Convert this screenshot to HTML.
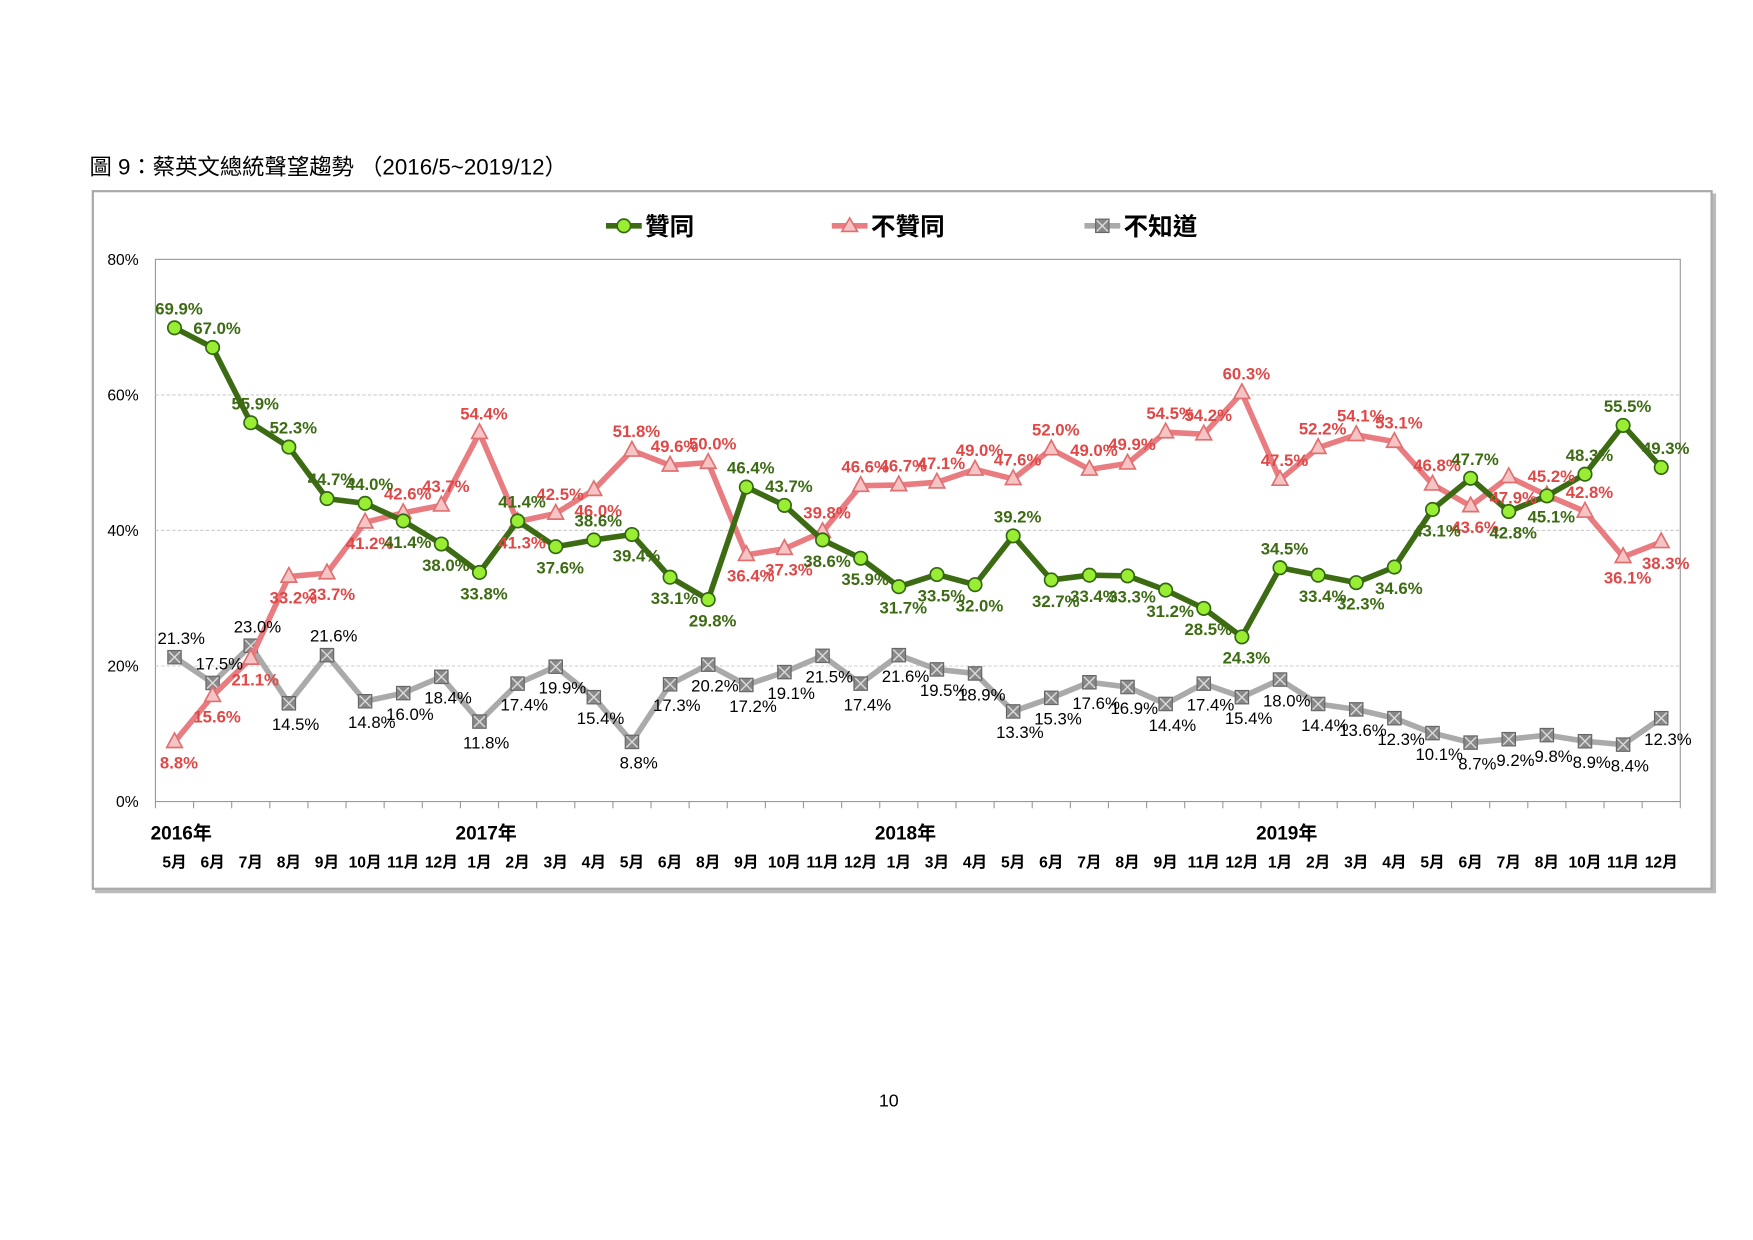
<!DOCTYPE html>
<html><head><meta charset="utf-8"><style>
html,body{margin:0;padding:0;background:#fff;}
svg{display:block;}
text{font-family:"Liberation Sans","Noto Sans CJK TC",sans-serif;}
</style></head><body>
<svg id="chart" width="1753" height="1240" viewBox="0 0 1568 1109.2" xmlns="http://www.w3.org/2000/svg">
<text x="80" y="156" font-size="20" font-family="Liberation Serif, Noto Serif CJK SC, serif">圖 9：蔡英文總統聲望趨勢 （2016/5~2019/12）</text>
<rect x="85" y="173" width="1450" height="626" fill="#bbb"/>
<rect x="83" y="171" width="1448" height="624" fill="#fff" stroke="#aaa" stroke-width="2"/>
<rect x="139" y="232" width="1364" height="485" fill="#fff" stroke="#999" stroke-width="1"/>
<g id="grid"></g><g id="series"></g><g id="labels"></g><g id="axis"></g>
<g font-weight="bold" font-size="22">
 <g>
  <line x1="542" y1="202" x2="574" y2="202" stroke="#3d6b14" stroke-width="5"/><circle cx="558" cy="202" r="6" fill="#99ee33" stroke="#336611" stroke-width="1.5"/>
  <text x="577" y="210">贊同</text></g>
 <g>
  <line x1="744" y1="202" x2="776" y2="202" stroke="#e87c80" stroke-width="5"/><polygon points="760,195 767,207 753,207" fill="#f6c4c4" stroke="#e07070" stroke-width="1.5"/>
  <text x="779" y="210">不贊同</text></g>
 <g>
  <line x1="970" y1="202" x2="1002" y2="202" stroke="#aaa" stroke-width="5"/><rect x="980" y="196" width="12" height="12" fill="#888" stroke="#666"/><path d="M981 197L991 207M991 197L981 207" stroke="#ddd" stroke-width="1.2"/>
  <text x="1005" y="210">不知道</text></g>
</g>
<text x="795" y="990" font-size="16" text-anchor="middle">10</text>
</svg>
<script>
const months=["5月","6月","7月","8月","9月","10月","11月","12月","1月","2月","3月","4月","5月","6月","8月","9月","10月","11月","12月","1月","3月","4月","5月","6月","7月","8月","9月","11月","12月","1月","2月","3月","4月","5月","6月","7月","8月","10月","11月","12月"];
const years=[["2016年",0],["2017年",8],["2018年",19],["2019年",29]];
const yTicks=[0,20,40,60,80];
const approve=[69.9,67.0,55.9,52.3,44.7,44.0,41.4,38.0,33.8,41.4,37.6,38.6,39.4,33.1,29.8,46.4,43.7,38.6,35.9,31.7,33.5,32.0,39.2,32.7,33.4,33.3,31.2,28.5,24.3,34.5,33.4,32.3,34.6,43.1,47.7,42.8,45.1,48.3,55.5,49.3];
const disapprove=[8.8,15.6,21.1,33.2,33.7,41.2,42.6,43.7,54.4,41.3,42.5,46.0,51.8,49.6,50.0,36.4,37.3,39.8,46.6,46.7,47.1,49.0,47.6,52.0,49.0,49.9,54.5,54.2,60.3,47.5,52.2,54.1,53.1,46.8,43.6,47.9,45.2,42.8,36.1,38.3];
const unknown=[21.3,17.5,23.0,14.5,21.6,14.8,16.0,18.4,11.8,17.4,19.9,15.4,8.8,17.3,20.2,17.2,19.1,21.5,17.4,21.6,19.5,18.9,13.3,15.3,17.6,16.9,14.4,17.4,15.4,18.0,14.4,13.6,12.3,10.1,8.7,9.2,9.8,8.9,8.4,12.3];
const approvePos="aaaaaabbbababbbaabbbbbabbbbbbabbbbabbaaa";
const disapprovePos="bbbbbbaaababaaabbaaaaaaaaaaaaaaaaabbaabba";
const unknownPos="aaababbbbbbbbbbbbbbbbbbbbbbbbbbbbbbbbbbb";
const L=139,R=1503,T=232,B=717;
const n=approve.length, bw=(R-L)/n;
const X=i=>L+bw*(i+0.5);
const Y=v=>B-(v/80)*(B-T);
const NS="http://www.w3.org/2000/svg";
function mk(tag,attrs,parent){const e=document.createElementNS(NS,tag);for(const k in attrs)e.setAttribute(k,attrs[k]);parent.appendChild(e);return e;}
const grid=document.getElementById('grid'),axis=document.getElementById('axis'),ser=document.getElementById('series'),lab=document.getElementById('labels');
yTicks.forEach(t=>{
 if(t>0&&t<80){const g=mk('line',{x1:L,x2:R,y1:Y(t),y2:Y(t),stroke:'#ccc','stroke-dasharray':'3,2'},grid);
 
 }
 const tx=mk('text',{x:124,y:Y(t)+5,'font-size':14,'text-anchor':'end'},axis);tx.textContent=t+'%';
 
 
});
for(let i=0;i<=n;i++){const tk=mk('line',{x1:L+bw*i,x2:L+bw*i,y1:B,y2:B+6,stroke:'#999'},axis);
 
 }
months.forEach((m,i)=>{const t=mk('text',{x:X(i),y:776,'font-size':14,'font-weight':'bold','text-anchor':'middle'},axis);t.textContent=m;
 
 });
years.forEach(([y,i])=>{const t=mk('text',{x:X(i)+6,y:751,'font-size':17,'font-weight':'bold','text-anchor':'middle'},axis);t.textContent=y;
 
 });
function draw(vals,pos,color,name,marker,lblColor,bold){
 const pl=mk('polyline',{points:vals.map((v,i)=>X(i)+','+Y(v)).join(' '),fill:'none',stroke:color,'stroke-width':5,'stroke-linejoin':'round'},ser);
 
 
 vals.forEach((v,i)=>{const x=X(i),y=Y(v);let m;
  if(marker==='c')m=mk('circle',{cx:x,cy:y,r:6,fill:'#99ee33',stroke:'#336611','stroke-width':1.5},ser);
  else if(marker==='t')m=mk('polygon',{points:`${x},${y-8} ${x+7},${y+5} ${x-7},${y+5}`,fill:'#f6c4c4',stroke:'#e07070','stroke-width':1.5},ser);
  else{m=mk('g',{},ser);mk('rect',{x:x-6,y:y-6,width:12,height:12,fill:'#888',stroke:'#666'},m);mk('path',{d:`M${x-5} ${y-5}L${x+5} ${y+5}M${x+5} ${y-5}L${x-5} ${y+5}`,stroke:'#ddd','stroke-width':1.2},m);}
  
  
  const above=pos[i]==='a';
  const dx=marker==='s'?6:4;
  const t=mk('text',{x:x+dx,y:above?y-12:y+24,'font-size':15,'font-weight':bold?'bold':'normal',fill:lblColor,'text-anchor':'middle'},lab);
  t.textContent=v.toFixed(1)+'%';
  
  
 });
}
draw(unknown,unknownPos,'#aaaaaa','unknown','s','#000',false);
draw(disapprove,disapprovePos,'#e87c80','disapprove','t','#e04848',true);
draw(approve,approvePos,'#3d6b14','approve','c','#3d6b14',true);
</script>
</body></html>
